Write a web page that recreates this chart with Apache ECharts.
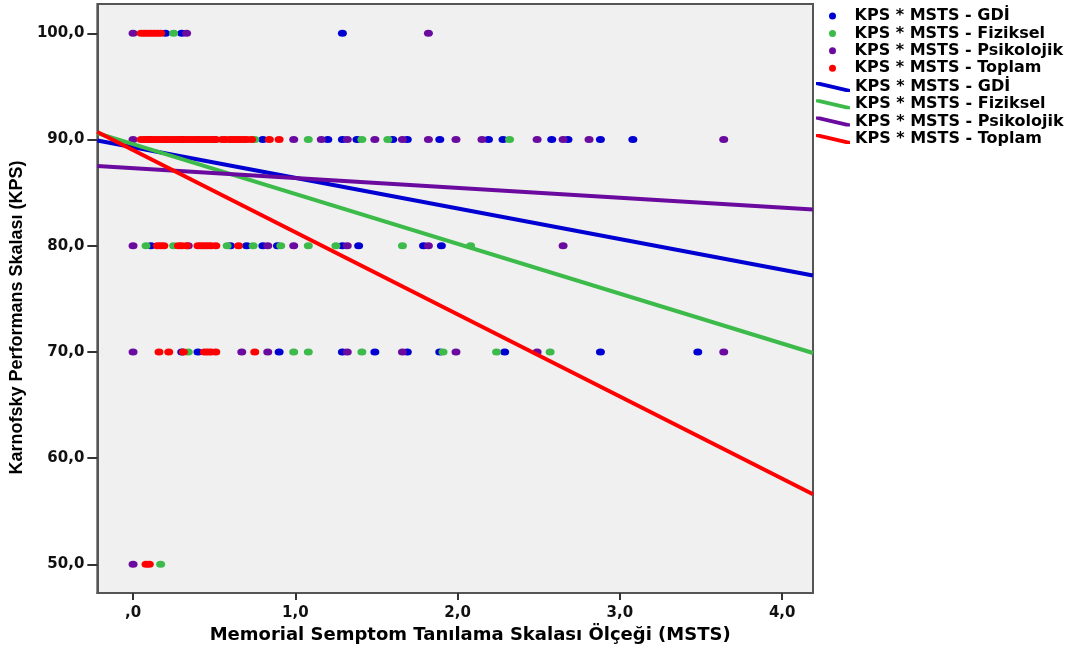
<!DOCTYPE html>
<html>
<head>
<meta charset="utf-8">
<script src="https://cdn.jsdelivr.net/npm/echarts@6/dist/echarts.min.js"></script>
<style>
  html, body { margin: 0; padding: 0; background: #fff; }
  #chart { width: 1083px; height: 650px; }
</style>
</head>
<body>
<div id="chart"></div>
<script>
  // series names (scatter + fit line share the same name)
  const names = ['KPS * MSTS - GDİ', 'KPS * MSTS - Fiziksel', 'KPS * MSTS - Psikolojik', 'KPS * MSTS - Toplam'];
  const colors = ['#0000d2', '#3cba4a', '#6a0a9e', '#ff0000'];

  // axis ticks
  const xTickValues = [0, 1, 2, 3, 4];
  const xTickLabels = [',0', '1,0', '2,0', '3,0', '4,0'];
  const yTickValues = [50, 60, 70, 80, 90, 100];
  const yTickLabels = ['50,0', '60,0', '70,0', '80,0', '90,0', '100,0'];
  const xRange = [-0.22, 4.19];
  const yRange = [47.3, 102.76];

  // points [MSTS, KPS]
  const gdiPoints = [
    [0.20, 100], [0.30, 100], [1.29, 100],
    [0.10, 90], [0.30, 90], [0.50, 90], [0.80, 90], [1.20, 90], [1.29, 90], [1.38, 90], [1.60, 90],
    [1.69, 90], [1.89, 90], [2.19, 90], [2.28, 90], [2.58, 90], [2.68, 90], [2.88, 90], [3.08, 90],
    [0.11, 80], [0.60, 80], [0.70, 80], [0.80, 80], [0.89, 80], [1.29, 80], [1.39, 80], [1.79, 80], [1.90, 80],
    [0.30, 70], [0.40, 70], [0.90, 70], [1.29, 70], [1.49, 70], [1.69, 70], [1.89, 70], [2.29, 70],
    [2.88, 70], [3.48, 70]
  ];
  const fizPoints = [
    [0.25, 100],
    [0.20, 90], [0.40, 90], [0.60, 90], [0.75, 90], [1.08, 90], [1.41, 90], [1.57, 90], [2.32, 90],
    [0.08, 80], [0.25, 80], [0.58, 80], [0.74, 80], [0.91, 80], [1.08, 80], [1.25, 80], [1.66, 80], [2.08, 80],
    [0.34, 70], [0.99, 70], [1.08, 70], [1.41, 70], [1.91, 70], [2.24, 70], [2.57, 70],
    [0.17, 50]
  ];
  const psiPoints = [
    [0.00, 100], [0.33, 100], [1.82, 100],
    [0.00, 90], [0.99, 90], [1.16, 90], [1.32, 90], [1.49, 90], [1.66, 90], [1.82, 90], [1.99, 90],
    [2.15, 90], [2.49, 90], [2.65, 90], [2.81, 90], [3.64, 90],
    [0.00, 80], [0.34, 80], [0.83, 80], [0.99, 80], [1.32, 80], [1.82, 80], [2.65, 80],
    [0.00, 70], [0.67, 70], [0.83, 70], [1.32, 70], [1.66, 70], [1.99, 70], [2.49, 70], [3.64, 70],
    [0.00, 50]
  ];
  const topPoints = [
    [0.05, 100], [0.07, 100], [0.09, 100], [0.11, 100], [0.13, 100], [0.15, 100], [0.17, 100],
    [0.05, 90], [0.07, 90], [0.09, 90], [0.11, 90], [0.13, 90], [0.15, 90], [0.17, 90], [0.19, 90],
    [0.21, 90], [0.23, 90], [0.25, 90], [0.27, 90], [0.29, 90], [0.31, 90], [0.33, 90], [0.35, 90],
    [0.37, 90], [0.39, 90], [0.41, 90], [0.43, 90], [0.45, 90], [0.47, 90], [0.49, 90], [0.51, 90],
    [0.55, 90], [0.57, 90], [0.60, 90], [0.62, 90], [0.64, 90], [0.66, 90], [0.68, 90], [0.70, 90],
    [0.73, 90], [0.84, 90], [0.90, 90],
    [0.15, 80], [0.17, 80], [0.19, 80], [0.28, 80], [0.30, 80], [0.33, 80], [0.40, 80], [0.42, 80],
    [0.44, 80], [0.46, 80], [0.48, 80], [0.51, 80], [0.65, 80],
    [0.16, 70], [0.22, 70], [0.31, 70], [0.44, 70], [0.46, 70], [0.48, 70], [0.51, 70], [0.75, 70],
    [0.08, 50], [0.10, 50]
  ];

  // fit lines: KPS at xRange[0] and xRange[1]
  const gdiFit = [89.9, 77.2];
  const fizFit = [90.6, 69.9];
  const psiFit = [87.5, 83.4];
  const topFit = [90.7, 56.6];

  const pointSets = [gdiPoints, fizPoints, psiPoints, topPoints];
  const fitSets = [gdiFit, fizFit, psiFit, topFit];

  const boldFont = 'DejaVu Sans';

  let myChart = echarts.init(document.getElementById('chart'));

  let series = [];
  pointSets.forEach(function (pts, i) {
    series.push({
      name: names[i],
      type: 'scatter',
      data: pts,
      symbol: 'circle',
      symbolSize: [9, 7],
      itemStyle: { color: colors[i], opacity: 1 }
    });
  });
  fitSets.forEach(function (fit, i) {
    series.push({
      name: names[i],
      type: 'line',
      data: [[xRange[0], fit[0]], [xRange[1], fit[1]]],
      symbol: 'none',
      lineStyle: { color: colors[i], width: 4 },
      itemStyle: { color: colors[i] },
      z: 3
    });
  });

  const lineIcon = 'path://M0,0L4,0L34,7L34,10L30,10L0,3Z';
  const legendText = { fontFamily: boldFont, fontWeight: 'bold', fontSize: 16, color: '#000' };

  myChart.setOption({
    animation: false,
    backgroundColor: '#fff',
    grid: {
      left: 96, top: 4, right: 270, bottom: 57,
      show: true, backgroundColor: '#f0f0f0', borderColor: '#555', borderWidth: 2
    },
    legend: [
      {
        orient: 'vertical', left: 824, top: 3,
        itemWidth: 34, itemHeight: 7, itemGap: 1.4,
        selectedMode: false,
        textStyle: legendText,
        data: names.map(function (n) { return { name: n, icon: 'circle' }; })
      },
      {
        orient: 'vertical', left: 811, top: 74,
        itemWidth: 34, itemHeight: 10, itemGap: 1.3,
        selectedMode: false,
        textStyle: legendText,
        data: names.map(function (n) { return { name: n, icon: lineIcon }; })
      }
    ],
    xAxis: {
      type: 'value',
      min: xRange[0], max: xRange[1],
      name: 'Memorial Semptom Tanılama Skalası Ölçeği (MSTS)',
      nameLocation: 'middle', nameGap: 32,
      nameTextStyle: { fontFamily: boldFont, fontWeight: 'bold', fontSize: 18, color: '#000', padding: [0, 0, 0, 30] },
      splitLine: { show: false },
      axisLine: { show: true, onZero: false, lineStyle: { color: '#555', width: 2 } },
      axisTick: { show: true, customValues: xTickValues, length: 7, lineStyle: { color: '#333', width: 2 } },
      axisLabel: {
        customValues: xTickValues, margin: 13,
        fontFamily: boldFont, fontWeight: 'bold', fontSize: 15, color: '#111',
        formatter: function (v) { return xTickLabels[xTickValues.indexOf(v)]; }
      }
    },
    yAxis: {
      type: 'value',
      min: yRange[0], max: yRange[1],
      name: 'Karnofsky Performans Skalası (KPS)',
      nameLocation: 'middle', nameGap: 68,
      nameTextStyle: { fontFamily: 'Liberation Sans', fontWeight: 'bold', fontSize: 18, color: '#000', padding: [0, 38, 0, 0] },
      splitLine: { show: false },
      axisLine: { show: true, onZero: false, lineStyle: { color: '#555', width: 2 } },
      axisTick: { show: true, customValues: yTickValues, length: 10, lineStyle: { color: '#333', width: 2 } },
      axisLabel: {
        customValues: yTickValues, margin: 13,
        fontFamily: boldFont, fontWeight: 'bold', fontSize: 15, color: '#111',
        formatter: function (v) { return yTickLabels[yTickValues.indexOf(v)]; }
      }
    },
    series: series
  });
</script>
</body>
</html>
